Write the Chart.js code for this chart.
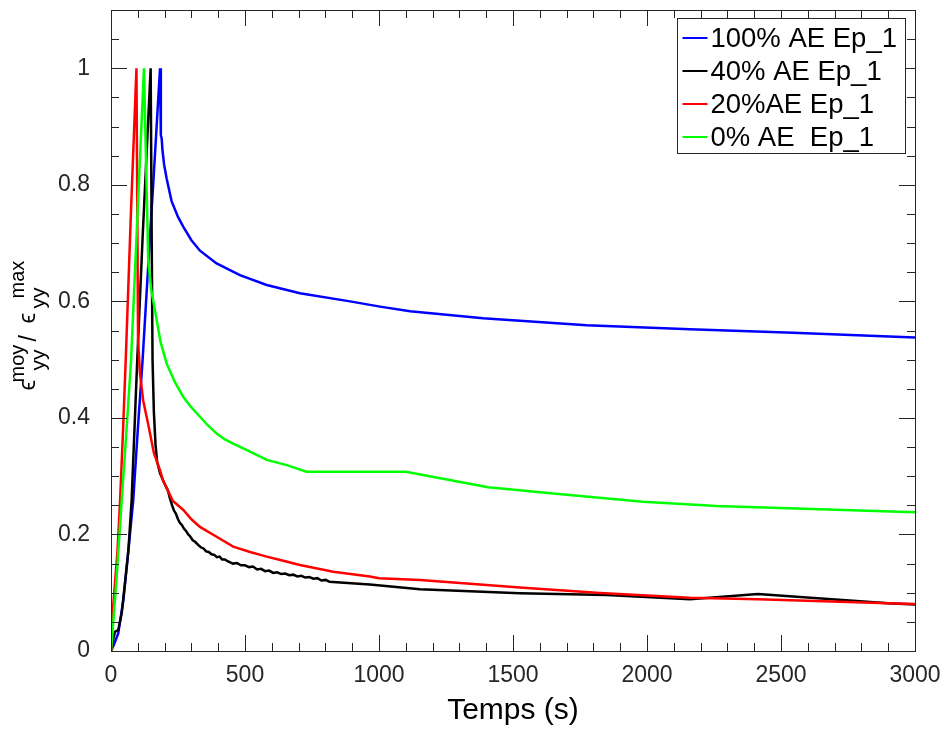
<!DOCTYPE html>
<html>
<head>
<meta charset="utf-8">
<script src="https://cdn.jsdelivr.net/npm/chart.js@4.4.0/dist/chart.umd.min.js"></script>
<style>
  body { margin: 0; background: #fff; }
</style>
</head>
<body>
<canvas id="canvasdeform" width="947" height="729"></canvas>
<script>
// eixos
var xTicks = [0, 500, 1000, 1500, 2000, 2500, 3000];
var yTicks = [0, 0.2, 0.4, 0.6, 0.8, 1];

// 100% AE Ep_1
var tAE100 = [0, 10, 27, 46, 65, 83, 100, 118, 140, 160, 183, 186, 189, 192, 198, 208, 226, 250, 270, 300, 332, 394, 481, 581, 705, 892, 1004, 1116, 1388, 1775, 2160, 2545, 3000];
var yAE100 = [0, 0.01, 0.03, 0.087, 0.173, 0.259, 0.38, 0.5, 0.67, 0.82, 1.0, 0.885, 0.88, 0.86, 0.835, 0.81, 0.772, 0.745, 0.728, 0.705, 0.687, 0.665, 0.645, 0.628, 0.614, 0.600, 0.591, 0.583, 0.571, 0.559, 0.552, 0.546, 0.538];

// 40% AE Ep_1
var tAE40 = [0, 8, 15, 27, 40, 52, 65, 77, 98, 118, 148, 152, 155, 160, 166, 172, 183, 195, 205, 212, 220, 228, 235, 242, 250, 257, 265, 272, 280, 288, 295, 305, 315, 325, 335, 345, 355, 365, 375, 385, 395, 405, 415, 425, 435, 445, 455, 470, 485, 500, 515, 530, 545, 560, 575, 590, 605, 620, 635, 650, 665, 680, 695, 710, 725, 740, 755, 770, 785, 800, 815, 966, 1153, 1526, 1850, 2160, 2414, 2900, 3000];
var yAE40 = [0, 0.02, 0.033, 0.036, 0.065, 0.116, 0.173, 0.259, 0.5, 0.71, 1.0, 0.7, 0.5, 0.41, 0.355, 0.325, 0.305, 0.292, 0.282, 0.276, 0.262, 0.250, 0.241, 0.236, 0.226, 0.220, 0.216, 0.210, 0.206, 0.200, 0.197, 0.190, 0.187, 0.182, 0.178, 0.176, 0.171, 0.170, 0.166, 0.165, 0.161, 0.162, 0.157, 0.157, 0.154, 0.152, 0.150, 0.151, 0.147, 0.147, 0.144, 0.145, 0.140, 0.141, 0.137, 0.138, 0.134, 0.135, 0.132, 0.133, 0.130, 0.131, 0.128, 0.129, 0.126, 0.127, 0.124, 0.125, 0.121, 0.122, 0.119, 0.114, 0.106, 0.099, 0.096, 0.089, 0.098, 0.082, 0.080];

// 20%AE Ep_1
var tAE20 = [0, 1, 12, 24, 34, 45, 55, 75, 95, 101, 108, 120, 138, 160, 183, 194, 230, 270, 300, 332, 394, 456, 519, 581, 643, 705, 829, 966, 1000, 1153, 1526, 1825, 2160, 2414, 2900, 3000];
var yAE20 = [0, 0.035, 0.1, 0.17, 0.259, 0.38, 0.5, 0.76, 1.0, 0.533, 0.477, 0.43, 0.391, 0.34, 0.31, 0.293, 0.258, 0.242, 0.226, 0.213, 0.196, 0.179, 0.17, 0.162, 0.155, 0.1475, 0.136, 0.128, 0.125, 0.122, 0.109, 0.0995, 0.0914, 0.0886, 0.082, 0.0806];

// 0% AE  Ep_1
var tAE0 = [0, 20, 40, 58, 75, 98, 123, 139, 150, 164, 185, 208, 240, 270, 300, 332, 362, 394, 425, 456, 519, 581, 656, 700, 730, 1100, 1407, 1700, 1985, 2260, 3000];
var yAE0 = [0, 0.12, 0.259, 0.38, 0.5, 0.74, 1.0, 0.67, 0.62, 0.585, 0.53, 0.493, 0.46, 0.436, 0.418, 0.402, 0.387, 0.373, 0.363, 0.356, 0.342, 0.328, 0.319, 0.312, 0.3075, 0.3075, 0.281, 0.268, 0.256, 0.249, 0.238];

function pontos(t, y) {
  return t.map(function (v, i) {
    return { x: v, y: y[i] };
  });
}

var corEixo = '#262626';
var fonte = '"Liberation Sans", Arial, Helvetica, sans-serif';

// moldura + ticks para dentro
var moldura = {
  id: 'moldura',
  afterDatasetsDraw: function (chart) {
    var c = chart.ctx, a = chart.chartArea;
    var sx = chart.scales.x, sy = chart.scales.y;
    c.save();
    c.strokeStyle = corEixo;
    c.lineWidth = 1;
    c.beginPath();
    for (var v = 0; v <= 3000; v += 100) {
      var px = Math.round(sx.getPixelForValue(v)) + 0.5;
      var len = (v % 500 == 0) ? 16 : 8;
      c.moveTo(px, a.bottom); c.lineTo(px, a.bottom - len);
      c.moveTo(px, a.top); c.lineTo(px, a.top + len);
    }
    for (var k = 0; k <= 22; k++) {
      var py = Math.round(sy.getPixelForValue(k * 0.05)) + 0.5;
      var len2 = (k % 4 == 0) ? 16 : 8;
      c.moveTo(a.left, py); c.lineTo(a.left + len2, py);
      c.moveTo(a.right, py); c.lineTo(a.right - len2, py);
    }
    c.stroke();
    c.strokeRect(Math.round(a.left) + 0.5, Math.round(a.top) + 0.5, Math.round(a.right - a.left), Math.round(a.bottom - a.top));
    c.restore();
  }
};

// legenda com caixa
var legenda = {
  id: 'legenda',
  afterDraw: function (chart) {
    var c = chart.ctx, a = chart.chartArea;
    var ds = chart.data.datasets;
    c.save();
    c.font = '27.5px ' + fonte;
    var maxW = 0;
    ds.forEach(function (d) { maxW = Math.max(maxW, c.measureText(d.label).width); });
    var right = a.right - 10, top = a.top + 8;
    var w = 33 + maxW + 8, h = 135;
    var left = right - w;
    c.fillStyle = '#fff';
    c.fillRect(left, top, w, h);
    c.strokeStyle = corEixo;
    c.lineWidth = 1;
    c.strokeRect(Math.round(left) + 0.5, Math.round(top) + 0.5, Math.round(w), h);
    c.textBaseline = 'middle';
    ds.forEach(function (d, i) {
      var cy = top + 20 + i * 33;
      c.strokeStyle = d.borderColor;
      c.lineWidth = 2;
      c.beginPath();
      c.moveTo(left + 5, cy); c.lineTo(left + 30, cy);
      c.stroke();
      c.fillStyle = '#000';
      c.fillText(d.label, left + 33, cy + 1);
    });
    c.restore();
  }
};

// titulo y com sub/sobrescrito
var tituloY = {
  id: 'tituloY',
  afterDraw: function (chart) {
    var c = chart.ctx;
    var meio = (chart.chartArea.top + chart.chartArea.bottom) / 2 - 2;
    var partes = [
      { t: '\u03f5', y: 62, b: 35, f: 24 },
      { t: 'yy', y: 42, b: 45, f: 21 },
      { t: 'moy', y: 54, b: 24, f: 20 },
      { t: '/', y: 13, b: 36, f: 23 },
      { t: '\u03f5', y: -5, b: 35, f: 24 },
      { t: 'yy', y: -20, b: 45, f: 21 },
      { t: 'max', y: -30, b: 24, f: 20 }
    ];
    c.save();
    c.rotate(-Math.PI / 2);
    c.fillStyle = '#000';
    c.textAlign = 'left';
    c.textBaseline = 'alphabetic';
    partes.forEach(function (p) {
      c.font = p.f + 'px ' + fonte;
      c.fillText(p.t, -(meio + p.y), p.b);
    });
    c.restore();
  }
};

var ctx = document.getElementById('canvasdeform').getContext('2d');
var myChart = new Chart(ctx, {
  type: 'line',
  data: {
    datasets: [{
      label: '100% AE Ep_1',
      data: pontos(tAE100, yAE100),
      borderColor: '#0000ff',
      backgroundColor: '#0000ff',
      borderWidth: 2.5,
      order: 4
    },
    {
      label: '40% AE Ep_1',
      data: pontos(tAE40, yAE40),
      borderColor: '#000000',
      backgroundColor: '#000000',
      borderWidth: 2.5,
      order: 3
    },
    {
      label: '20%AE Ep_1',
      data: pontos(tAE20, yAE20),
      borderColor: '#ff0000',
      backgroundColor: '#ff0000',
      borderWidth: 2.5,
      order: 2
    },
    {
      label: '0% AE  Ep_1',
      data: pontos(tAE0, yAE0),
      borderColor: '#00ff00',
      backgroundColor: '#00ff00',
      borderWidth: 2.5,
      order: 1
    }
    ]
  },
  options: {
    responsive: false,
    animation: false,
    layout: { padding: { top: 10, right: 32, left: 0, bottom: 0 } },
    plugins: {
      legend: { display: false },
      tooltip: { enabled: false }
    },
    elements: {
      line: { tension: 0 },
      point: { radius: 0 }
    },
    scales: {
      x: {
        type: 'linear',
        min: 0,
        max: 3000,
        grid: { display: false, drawTicks: false },
        border: { display: false },
        afterBuildTicks: function (s) { s.ticks = xTicks.map(function (v) { return { value: v }; }); },
        afterFit: function (s) { s.height = 78; s.paddingLeft = 0; s.paddingRight = 0; },
        ticks: {
          autoSkip: false,
          maxRotation: 0,
          padding: 11,
          color: corEixo,
          font: { family: fonte, size: 23 },
          callback: function (v) { return String(v); }
        },
        title: {
          display: true,
          text: 'Temps (s)',
          color: '#000',
          font: { family: fonte, size: 30 },
          padding: { top: 0, bottom: 0 }
        }
      },
      y: {
        min: 0,
        max: 1.1,
        grid: { display: false, drawTicks: false },
        border: { display: false },
        afterBuildTicks: function (s) { s.ticks = yTicks.map(function (v) { return { value: v }; }); },
        afterFit: function (s) { s.width = 111; s.paddingTop = 0; s.paddingBottom = 0; },
        ticks: {
          padding: 21,
          color: corEixo,
          font: { family: fonte, size: 23 },
          callback: function (v) { return String(v); }
        }
      }
    }
  },
  plugins: [moldura, legenda, tituloY]
});
</script>
</body>
</html>
